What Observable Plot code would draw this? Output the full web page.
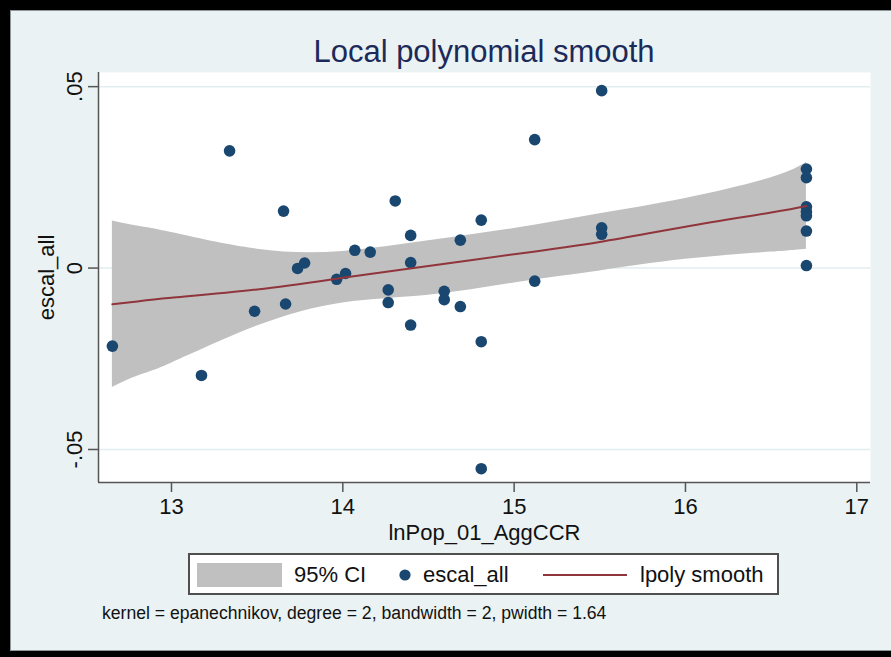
<!DOCTYPE html>
<html>
<head>
<meta charset="utf-8">
<script src="https://cdn.jsdelivr.net/npm/d3@7"></script>
<script src="https://cdn.jsdelivr.net/npm/@observablehq/plot@0.6"></script>
<style>
  html, body { margin: 0; padding: 0; background: #000; }
  #page { position: absolute; left: 0; top: 0; width: 891px; height: 657px; background: #000; overflow: hidden; font-family: "Liberation Sans", Arial, sans-serif; }
  #inner { position: absolute; left: 10px; top: 10px; width: 881px; height: 641px; background: #EAF2F3; border-top: 1px solid #8d9799; border-left: 1px solid #8d9799; border-bottom: 1px solid #8d9799; box-sizing: border-box; }
  #chart { position: absolute; left: 0; top: 0; }
  .txt { position: absolute; white-space: nowrap; line-height: 1; }
</style>
</head>
<body>
<div id="page">
  <div id="inner"></div>
  <div id="chart"></div>
  <div class="txt" id="title" style="left:0;width:968px;text-align:center;top:36px;font-size:31px;color:#1C2A5A;"></div>
  <div id="legend" style="position:absolute;left:188px;top:553px;width:591px;height:42px;box-sizing:border-box;border:2px solid #4f4f4f;background:#fff;"></div>
  <div class="txt" id="caption" style="left:102px;top:605px;font-size:17.6px;color:#111;"></div>
</div>
<script>
// ---- data ----
const titleText = "Local polynomial smooth";
const xLabel = "lnPop_01_AggCCR";
const yLabel = "escal_all";
const captionText = "kernel = epanechnikov, degree = 2, bandwidth = 2, pwidth = 1.64";
const legendLabels = ["95% CI", "escal_all", "lpoly smooth"];

const xTicks = [13, 14, 15, 16, 17];
const xTickLabels = ["13", "14", "15", "16", "17"];
const yTicks = [-0.05, 0, 0.05];
const yTickLabels = ["-.05", "0", ".05"];

const ptX = [12.655, 13.175, 13.339, 13.485, 13.654, 13.666, 13.736, 13.777, 13.964, 14.016,
             14.070, 14.160, 14.265, 14.265, 14.306, 14.396, 14.396, 14.396, 14.592, 14.592,
             14.686, 14.686, 14.808, 14.808, 14.808, 15.120, 15.120, 15.511, 15.511, 15.511,
             16.706, 16.706, 16.706, 16.706, 16.706, 16.706, 16.706];
const ptY = [-0.0215, -0.0296, 0.0323, -0.0119, 0.0157, -0.0099, -0.0001, 0.0014, -0.0031, -0.0015,
             0.0049, 0.0044, -0.0060, -0.0095, 0.0185, 0.0090, 0.0015, -0.0157, -0.0064, -0.0087,
             0.0077, -0.0106, 0.0132, -0.0203, -0.0553, 0.0354, -0.0036, 0.0489, 0.0111, 0.0093,
             0.0273, 0.0249, 0.0169, 0.0155, 0.0144, 0.0102, 0.0007];

const smoothX = [12.655, 12.8, 13.0, 13.5, 14.0, 14.5, 15.0, 15.5, 16.0, 16.5, 16.706];
const smoothY = [-0.0100, -0.0092, -0.0082, -0.0059, -0.0027, 0.0006, 0.0038, 0.0072, 0.0114, 0.0153, 0.0171];
const ciLow   = [-0.0329, -0.0298, -0.0262, -0.0160, -0.0096, -0.0075, -0.0041, -0.0008, 0.0024, 0.0044, 0.0052];
const ciHigh  = [0.0130, 0.0116, 0.0098, 0.0052, 0.0046, 0.0075, 0.0109, 0.0150, 0.0192, 0.0249, 0.0291];

// ---- build tables ----
const points = ptX.map((x, i) => ({x, y: ptY[i]}));
const smooth = smoothX.map((x, i) => ({x, y: smoothY[i], lo: ciLow[i], hi: ciHigh[i]}));
const yTickTable = yTicks.map((v, i) => ({v, label: yTickLabels[i]}));

const xDomain = [12.574, 17.08];
const yDomain = [-0.0591, 0.0539];

const navy = "#1A476F";
const maroon = "#90353B";
const ciGray = "#C0C0C0";
const axisGray = "#555555";
const FS = 22;

const chart = Plot.plot({
  width: 891,
  height: 657,
  marginLeft: 98,
  marginRight: 21,
  marginTop: 72,
  marginBottom: 175,
  style: {background: "transparent", fontFamily: "'Liberation Sans', Arial, sans-serif", fontSize: FS + "px", color: "#111"},
  x: {domain: xDomain, axis: null},
  y: {domain: yDomain, axis: null},
  marks: [
    Plot.frame({fill: "white", stroke: null}),
    Plot.gridY(yTicks, {stroke: "#E3EDEF", strokeOpacity: 1, strokeWidth: 1.5}),
    Plot.areaY(smooth, {x: "x", y1: "lo", y2: "hi", fill: ciGray, curve: "natural"}),
    Plot.dot(points, {x: "x", y: "y", r: 5.8, fill: navy, stroke: null}),
    Plot.line(smooth, {x: "x", y: "y", stroke: maroon, strokeWidth: 2, curve: "natural"}),
    Plot.ruleX([xDomain[0]], {stroke: axisGray, strokeWidth: 1.5}),
    Plot.ruleY([yDomain[0]], {stroke: axisGray, strokeWidth: 1.5}),
    Plot.axisX(xTicks, {tickSize: 10, tickPadding: 6, stroke: axisGray, strokeWidth: 1.5, fill: "#111", label: null, fontSize: FS,
      tickFormat: d => xTickLabels[xTicks.indexOf(d)]}),
    Plot.axisY(yTicks, {tickSize: 10, stroke: axisGray, strokeWidth: 1.5, tickFormat: () => "", label: null}),
    Plot.text(yTickTable, {y: "v", text: "label", frameAnchor: "left", rotate: -90, dx: -24, textAnchor: "middle", lineAnchor: "middle", fill: "#111", fontSize: FS}),
    Plot.text([xLabel], {frameAnchor: "bottom", dy: 50, text: d => d, textAnchor: "middle", lineAnchor: "middle", fill: "#111", fontSize: FS}),
    Plot.text([yLabel], {frameAnchor: "left", dx: -52, rotate: -90, text: d => d, textAnchor: "middle", lineAnchor: "middle", fill: "#111", fontSize: FS})
  ]
});
document.getElementById("chart").appendChild(chart);

document.getElementById("title").textContent = titleText;
document.getElementById("caption").textContent = captionText;

// legend contents
const legend = document.getElementById("legend");
legend.innerHTML = `
  <div style="position:absolute;left:7px;top:8px;width:85px;height:24px;background:${ciGray};"></div>
  <div class="txt" style="left:104px;top:9px;font-size:${FS}px;color:#111;">${legendLabels[0]}</div>
  <svg style="position:absolute;left:208px;top:13px;" width="14" height="14"><circle cx="7" cy="7" r="5.6" fill="${navy}"></circle></svg>
  <div class="txt" style="left:233px;top:9px;font-size:${FS}px;color:#111;">${legendLabels[1]}</div>
  <div style="position:absolute;left:353px;top:19px;width:84px;height:2px;background:${maroon};"></div>
  <div class="txt" style="left:450px;top:9px;font-size:${FS}px;color:#111;">${legendLabels[2]}</div>
`;
</script>
</body>
</html>
